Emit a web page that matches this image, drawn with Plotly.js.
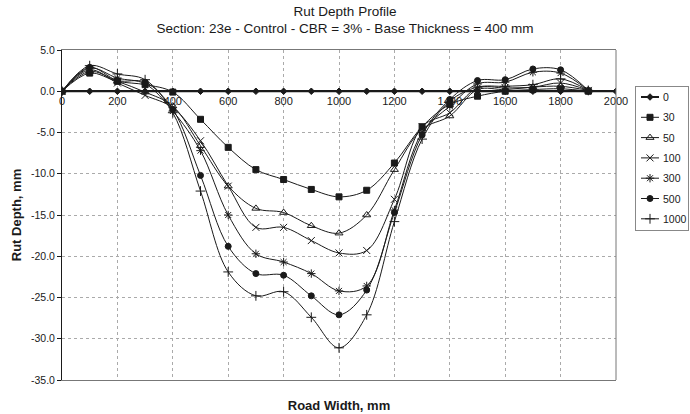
<!DOCTYPE html>
<html>
<head>
<meta charset="utf-8">
<script src="https://cdn.plot.ly/plotly-3.0.1.min.js"></script>
<style>html,body{margin:0;padding:0;background:#fff;}#chart{width:690px;height:414px;}</style>
</head>
<body>
<div id="chart"></div>
<script>
// Road width positions (mm)
const roadWidth = [0,100,200,300,400,500,600,700,800,900,1000,1100,1200,1300,1400,1500,1600,1700,1800,1900];
const roadWidth0 = [0,100,200,300,400,500,600,700,800,900,1000,1100,1200,1300,1400,1500,1600,1700,1800,1900,2000];
// Rut depth (mm) for each pass count
const rut0    = [0,0,0,0,0,0,0,0,0,0,0,0,0,0,0,0,0,0,0,0,0];
const rut30   = [0, 2.2, 1.2, 0.8, -0.1, -3.4, -6.8, -9.5, -10.7, -11.9, -12.8, -12.0, -8.7, -4.3, -1.6, -0.6, 0.0, 0.2, 0.3, 0.0];
const rut50   = [0, 2.4, 1.2, -0.1, -1.8, -6.6, -11.5, -14.2, -14.7, -16.3, -17.2, -15.0, -9.5, -4.6, -3.0, 0.2, 0.2, 0.5, 0.6, 0.1];
const rut100  = [0, 2.6, 1.0, -0.5, -2.0, -6.0, -11.5, -16.5, -16.5, -18.1, -19.6, -19.3, -13.1, -4.3, -2.6, 0.4, 0.4, 0.5, 1.0, 0.1];
const rut300  = [0, 2.8, 1.6, 0.9, -2.4, -7.2, -15.0, -19.7, -20.7, -22.1, -24.2, -23.6, -14.4, -5.0, -1.8, 0.9, 1.1, 2.3, 2.2, 0.1];
const rut500  = [0, 2.9, 1.3, 1.1, -2.2, -10.2, -18.8, -22.1, -22.3, -24.8, -27.1, -24.1, -14.7, -5.3, -1.0, 1.3, 1.4, 2.7, 2.6, 0.1];
const rut1000 = [0, 3.1, 2.1, 1.4, -2.6, -12.1, -21.9, -24.8, -24.3, -27.4, -31.1, -27.1, -15.8, -5.8, -1.2, 0.5, 0.6, 0.8, 1.5, 0.1];

const seriesNames = ['0','30','50','100','300','500','1000'];
const xTickVals = [0,200,400,600,800,1000,1200,1400,1600,1800,2000];
const yTickVals = [5,0,-5,-10,-15,-20,-25,-30,-35];

const font = 'Liberation Sans, Arial, sans-serif';
const ink = '#1a1a1a';

function tr(name, x, y, symbol, size, xaxis, width) {
  return {
    type: 'scatter', mode: 'lines+markers', name: name, x: x, y: y,
    xaxis: xaxis || 'x',
    line: {color: ink, width: width || 1, shape: 'spline', smoothing: 1},
    marker: {symbol: symbol, size: size, color: ink, line: {color: ink, width: 1}}
  };
}

const data = [
  tr(seriesNames[0], roadWidth0, rut0, 'diamond', 5, 'x2', 2),
  tr(seriesNames[1], roadWidth, rut30, 'square', 6),
  tr(seriesNames[2], roadWidth, rut50, 'triangle-up-open', 7),
  tr(seriesNames[3], roadWidth, rut100, 'x-thin-open', 7),
  tr(seriesNames[4], roadWidth, rut300, 'asterisk-open', 7),
  tr(seriesNames[5], roadWidth, rut500, 'circle', 6),
  tr(seriesNames[6], roadWidth, rut1000, 'cross-thin-open', 7)
];

const layout = {
  width: 690, height: 414,
  margin: {l: 62, r: 74, t: 50, b: 34, autoexpand: false},
  paper_bgcolor: '#fff', plot_bgcolor: '#fff',
  font: {family: font, size: 11, color: ink},
  title: {
    text: 'Rut Depth Profile<br>Section: 23e - Control - CBR = 3% - Base Thickness = 400 mm',
    font: {family: font, size: 13.5, color: ink},
    x: 0.5, xref: 'container', y: 0.962, yref: 'container', yanchor: 'bottom'
  },
  showlegend: true,
  legend: {
    xref: 'container', yref: 'container',
    x: 0.9203, xanchor: 'left', y: 0.792, yanchor: 'top',
    bordercolor: '#888', borderwidth: 1, bgcolor: '#fff',
    font: {family: font, size: 10.5, color: ink},
    tracegroupgap: 0, itemwidth: 30
  },
  xaxis: {
    range: [0, 2000], tickvals: xTickVals, showticklabels: false,
    showgrid: true, gridcolor: '#aaa', griddash: 'dot', gridwidth: 1,
    zeroline: false, showline: true, linecolor: '#777', linewidth: 1, mirror: true,
    ticks: '',
    title: {text: '<b>Road Width, mm</b>', font: {family: font, size: 13, color: ink}, standoff: 20}
  },
  xaxis2: {
    range: [0, 2000], overlaying: 'x', anchor: 'free', position: 0.875,
    tickvals: xTickVals, ticktext: xTickVals.map(String),
    showgrid: false, zeroline: false, showline: true, linecolor: ink, linewidth: 2,
    ticks: '', tickfont: {family: font, size: 11, color: ink}
  },
  yaxis: {
    range: [-35, 5], tickvals: yTickVals, ticktext: yTickVals.map(v => v.toFixed(1)),
    showgrid: true, gridcolor: '#aaa', griddash: 'dot', gridwidth: 1,
    zeroline: false, showline: true, linecolor: ink, linewidth: 1,
    ticks: 'outside', ticklen: 4, tickcolor: ink,
    tickfont: {family: font, size: 10.5, color: ink},
    title: {text: '<b>Rut Depth, mm</b>', font: {family: font, size: 13, color: ink}, standoff: 6}
  },
  shapes: [{
    type: 'line', xref: 'paper', yref: 'paper', x0: 1, x1: 1, y0: 0, y1: 1,
    line: {color: '#777', width: 1}
  }]
};

// Re-lay the legend Excel-style: short sample lines, fixed box beside the plot
function compactLegend(gd) {
  try {
    const legend = gd.querySelector('.legend');
    if (!legend) return;
    const boxLeft = 635, boxTop = 86, rowTop = 11, rowStep = 20.3;
    const textX = 27, lineLen = 18, symX = 14;
    legend.setAttribute('transform', 'translate(' + boxLeft + ',' + boxTop + ')');
    const scroll = legend.querySelector('.scrollbox');
    if (scroll) scroll.removeAttribute('clip-path');
    const traces = legend.querySelectorAll('.traces');
    let maxRight = 0;
    traces.forEach(function (t, i) {
      t.setAttribute('transform', 'translate(1,' + (rowTop + rowStep * i) + ')');
      t.querySelectorAll('.legendlines path').forEach(function (p) {
        p.setAttribute('d', 'M5,0h' + lineLen);
      });
      t.querySelectorAll('.legendpoints .scatterpts').forEach(function (p) {
        p.setAttribute('transform', 'translate(' + symX + ',0)');
      });
      const txt = t.querySelector('text.legendtext');
      if (txt) {
        txt.setAttribute('x', textX);
        txt.querySelectorAll('tspan').forEach(function (s) {
          if (s.hasAttribute('x')) s.setAttribute('x', textX);
        });
        const w = txt.getComputedTextLength ? txt.getComputedTextLength() : 24;
        maxRight = Math.max(maxRight, textX + w);
      }
    });
    const bgRect = legend.querySelector('rect.bg');
    if (bgRect) {
      bgRect.setAttribute('width', Math.min(53, Math.ceil(maxRight + 4)));
      bgRect.setAttribute('height', Math.round(rowTop * 2 + rowStep * (traces.length - 1)));
    }
  } catch (e) {}
}

const gd = document.getElementById('chart');
Plotly.newPlot(gd, data, layout, {displayModeBar: false, staticPlot: true}).then(function () {
  compactLegend(gd);
});
</script>
</body>
</html>
